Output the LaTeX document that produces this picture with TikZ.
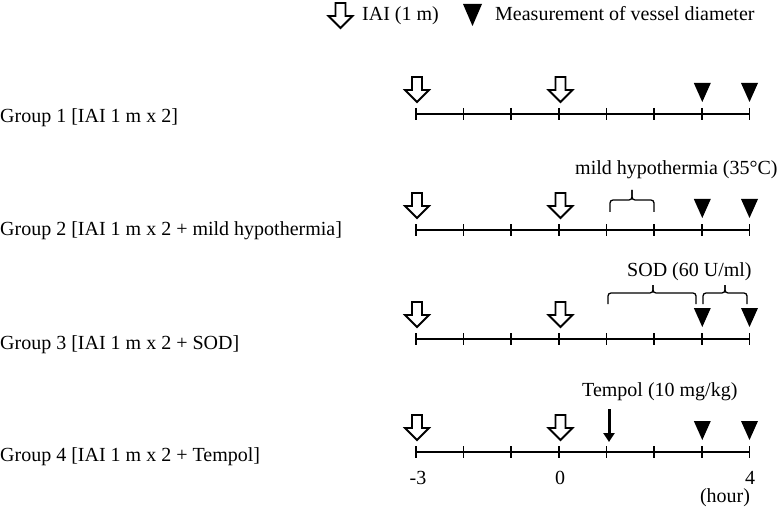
\documentclass[tikz,border=0pt]{standalone}
\usepackage{fontspec}
\setmainfont{Liberation Serif}
\usetikzlibrary{arrows.meta}
\tikzset{
  lbl/.style={inner sep=0pt, anchor=base west, font=\fontsize{20}{24}\selectfont},
  num/.style={inner sep=0pt, anchor=base, font=\fontsize{20}{24}\selectfont},
  axisline/.style={line width=2.2pt},
  tickline/.style={line width=1.6pt},
  bracel/.style={line width=1.3pt, rounded corners=3pt},
  openarrow/.pic={\draw[line width=1.8pt, fill=white, line join=miter]
     (-5,-37) -- (5,-37) -- (5,-24) -- (12,-24) -- (0,-12) -- (-12,-24) -- (-5,-24) -- cycle;},
  measmark/.pic={\fill (-8.5,-31) -- (8.5,-31) -- (0,-12) -- cycle;}
}
\begin{document}
\begin{tikzpicture}[x=1pt,y=-1pt]
\useasboundingbox (0,0) rectangle (777,508);
% legend
\pic at (340.5,40) {openarrow};
\node[lbl] (legA) at (362,21) {IAI (1 m)};
\fill (463,4) -- (482,4) -- (472.5,26) -- cycle;
\node[lbl] (legM) at (495,21) {Measurement of vessel diameter};
% group labels
\node[lbl] (g1) at (0,123) {Group 1 [IAI 1 m x 2]};
\node[lbl] (g2) at (0,235) {Group 2 [IAI 1 m x 2 + mild hypothermia]};
\node[lbl] (g3) at (0,349) {Group 3 [IAI 1 m x 2 + SOD]};
\node[lbl] (g4) at (0,461) {Group 4 [IAI 1 m x 2 + Tempol]};
% axes
\foreach \yy/\n in {114/1,230/2,339/3,452/4} {
  \coordinate (s\n) at (416,\yy);
  \coordinate (e\n) at (749.5,\yy);
  \draw[axisline] (s\n) -- (e\n);
  \foreach \k in {0,...,7} \draw[tickline] (416+47.64*\k,\yy-6) -- ++(0,12);
  \pic at (417,\yy) {openarrow};
  \pic at (560.5,\yy) {openarrow};
  \pic at (702.3,\yy) {measmark};
  \pic at (749.5,\yy) {measmark};
}
% group 2 brace
\node[lbl] (hyp) at (575,175) {mild hypothermia (35°C)};
\draw[bracel] (610,212) -- (610,200) -- (632,200) -- (632,190);
\draw[bracel] (654,212) -- (654,200) -- (632,200) -- (632,190);
% group 3 braces
\node[lbl] (sod) at (627,276) {SOD (60 U/ml)};
\draw[bracel] (608,304) -- (608,293) -- (653,293) -- (653,285);
\draw[bracel] (696,304) -- (696,293) -- (653,293) -- (653,285);
\draw[bracel] (703,304) -- (703,293) -- (725,293) -- (725,285);
\draw[bracel] (747,304) -- (747,293) -- (725,293) -- (725,285);
% group 4 tempol
\node[lbl] (tem) at (582,396) {Tempol (10 mg/kg)};
\coordinate (tA) at (609,409);
\coordinate (tB) at (609,442);
\draw[line width=3pt, -{Triangle[length=9pt,width=11pt]}] (tA) -- (tB);
% time labels
\node[num] (m3) at (418,484) {-3};
\node[num] (z0) at (560,484) {0};
\node[num] (f4) at (750,484) {4};
\node[num] (hr) at (725,502.5) {(hour)};
\end{tikzpicture}
\end{document}
